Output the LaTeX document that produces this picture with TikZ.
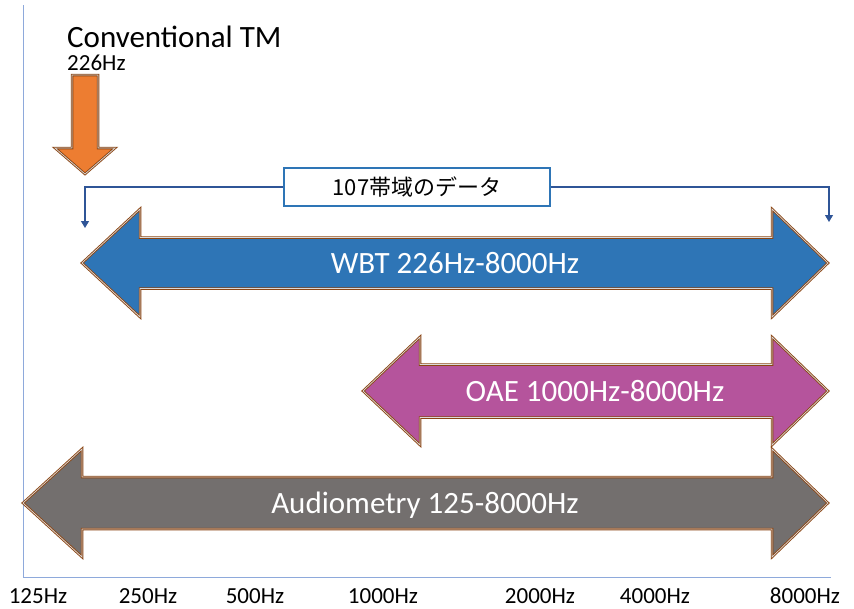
\documentclass[tikz,border=0pt]{standalone}
\usepackage{fontspec}
\setmainfont{Carlito}
\newfontfamily\jpfont{Noto Sans CJK JP}
\usetikzlibrary{arrows.meta}
\definecolor{wbtblue}{HTML}{2E75B6}
\definecolor{oaepink}{HTML}{B5549C}
\definecolor{audiogray}{HTML}{736F6E}
\definecolor{tmorange}{HTML}{ED7D31}
\definecolor{rimbrown}{HTML}{8B4513}
\definecolor{rimlight}{HTML}{DADADA}
\definecolor{axisblue}{HTML}{8EA9DB}
\definecolor{bracketblue}{HTML}{2F5597}

\tikzset{
  bandarrow/.style={draw=rimbrown, line width=0.9pt, double=rimlight, double distance=0.7pt, line join=miter},
  bandlabel/.style={text=white, anchor=base, font=\fontsize{31}{37}\selectfont},
  freqlabel/.style={anchor=base, font=\fontsize{23}{28}\selectfont},
  bracket/.style={bracketblue, line width=1.1pt, -{Triangle[length=7pt,width=8pt]}},
}

% double-headed band: fill, tip L, base L, base R, tip R, y centre, shaft half, head half
\newcommand{\freqband}[8]{%
  \filldraw[bandarrow, fill=#1]
    (#2,#6) -- ({#3},{#6-#8}) -- ({#3},{#6-#7}) -- ({#4},{#6-#7}) -- ({#4},{#6-#8})
    -- (#5,#6) -- ({#4},{#6+#8}) -- ({#4},{#6+#7}) -- ({#3},{#6+#7}) -- ({#3},{#6+#8}) -- cycle;}

\begin{document}
\begin{tikzpicture}[x=1pt, y=-1pt]
\useasboundingbox (0,0) rectangle (854,608);

% Axes
\draw[axisblue, line width=0.8pt] (23,5) -- (23,577) -- (831,577);

% Frequency labels
\node[freqlabel] (f125)  at (38,603)  {125Hz};
\node[freqlabel] (f250)  at (148,603) {250Hz};
\node[freqlabel] (f500)  at (255,603) {500Hz};
\node[freqlabel] (f1000) at (383,603) {1000Hz};
\node[freqlabel] (f2000) at (540,603) {2000Hz};
\node[freqlabel] (f4000) at (655,603) {4000Hz};
\node[freqlabel] (f8000) at (805,603) {8000Hz};

% Conventional tympanometry
\node[anchor=base west, inner sep=0, font=\fontsize{31}{37}\selectfont] (tmtitle) at (67,47) {Conventional TM};
\node[anchor=base west, inner sep=0, font=\fontsize{23}{28}\selectfont] (tmfreq) at (67,70) {226Hz};
\filldraw[bandarrow, fill=tmorange]
  (72,75) -- (98,75) -- (98,148) -- (115,148) -- (85,174) -- (55,148) -- (72,148) -- cycle;

% 107 bands
\coordinate (wbtL) at (85,228);
\coordinate (wbtR) at (829,222);
\node[draw=wbtblue, line width=1.1pt, fill=white, minimum width=266pt, minimum height=38pt,
  font=\jpfont\fontsize{22}{26}\selectfont] (bands) at (417,187) {107帯域のデータ};
\draw[bracket] (bands.west) -| (wbtL);
\draw[bracket] (bands.east) -| (wbtR);

% Bands
\freqband{wbtblue}{82}{140}{772}{828}{263}{25.5}{54}
\node[bandlabel] (wbt) at (455,273) {WBT 226Hz-8000Hz};

\freqband{oaepink}{363}{420}{772}{828}{391}{26.5}{54}
\node[bandlabel] (oae) at (595,401) {OAE 1000Hz-8000Hz};

\freqband{audiogray}{23}{82}{772}{828}{503}{26}{54}
\node[bandlabel] (audio) at (425,513) {Audiometry 125-8000Hz};

\end{tikzpicture}
\end{document}
